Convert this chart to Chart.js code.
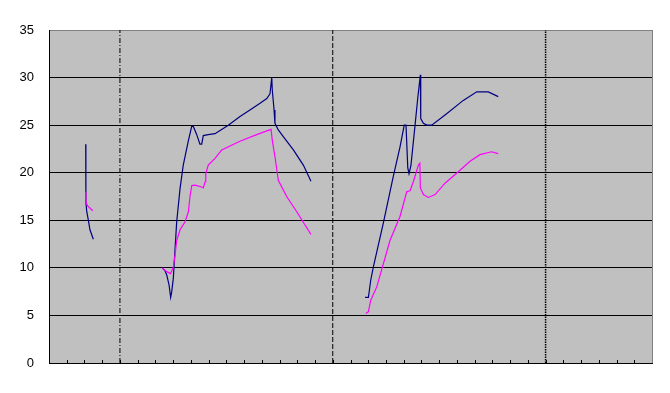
<!DOCTYPE html>
<html>
<head>
<meta charset="utf-8">
<script src="https://cdn.jsdelivr.net/npm/chart.js@4"></script>
<style>
    html, body { margin: 0; padding: 0; background: #ffffff; }
</style>
</head>
<body>
<canvas id="chart" width="670" height="393"></canvas>
<script>
// Series data: x in months along the axis, y values; null y breaks the line
const navyX = [2.07, 2.08, 2.13, 2.22, 2.31, 2.50,
    4,
    6.39, 6.54, 6.64, 6.77, 6.86, 6.92, 7.01, 7.11, 7.20, 7.39, 7.57, 7.85, 8.05, 8.14,
    8.33, 8.51, 8.61, 8.70, 8.98, 9.36, 10.11, 10.77, 11.33, 11.90, 12.28, 12.46, 12.56,
    12.59, 12.69, 12.74, 12.93, 13.21, 13.78, 14.34, 14.77,
    16,
    17.82, 18.01, 18.14, 18.29, 18.85, 19.41, 19.79, 20.03, 20.13, 20.23, 20.30, 20.41,
    20.64, 20.79, 20.94, 20.96, 21.11, 21.30, 21.58, 22.42, 23.36, 24.12, 24.77, 25.33];
const navyY = [23.0, 16.9, 15.9, 15.0, 14.0, 13.0,
    null,
    10.0, 9.7, 9.25, 8.2, 6.9, 7.5, 8.9, 12.05, 14.85, 18.35, 20.8, 23.3, 24.9, 24.85,
    24.0, 23.0, 23.0, 23.9, 24.0, 24.1, 25.0, 25.9, 26.6, 27.3, 27.8, 28.3, 30.0,
    28.7, 26.6, 25.2, 24.5, 23.8, 22.4, 20.8, 19.1,
    null,
    6.9, 6.9, 8.7, 10.1, 14.7, 19.6, 22.7, 25.0, 25.0, 20.5, 19.9, 20.8,
    25.0, 27.8, 30.3, 25.7, 25.2, 25.0, 25.0, 26.2, 27.6, 28.5, 28.5, 28.0];

const pinkX = [2.07, 2.08, 2.18, 2.47,
    4,
    6.39, 6.64, 6.86, 7.01, 7.11, 7.20, 7.39, 7.67, 7.86, 7.95, 8.05, 8.23, 8.61, 8.70,
    8.80, 8.84, 8.98, 9.36, 9.74, 10.77, 11.71, 12.52, 12.59, 12.74, 12.93, 13.40, 13.97, 14.77,
    16,
    17.86, 18.01, 18.14, 18.48, 19.23, 19.79, 20.17, 20.36, 20.55, 20.83, 20.91, 20.94,
    21.11, 21.39, 21.77, 22.33, 23.08, 23.74, 24.30, 24.96, 25.33];
const pinkY = [18.0, 16.9, 16.5, 16.0,
    null,
    10.0, 9.6, 9.4, 10.1, 11.35, 12.9, 14.0, 14.85, 15.9, 17.5, 18.65, 18.7, 18.5, 18.4,
    19.05, 19.9, 20.8, 21.5, 22.4, 23.3, 24.0, 24.55, 23.4, 21.7, 19.2, 17.5, 15.9, 13.5,
    null,
    5.2, 5.4, 6.6, 8.0, 12.9, 15.4, 18.0, 18.1, 19.1, 20.8, 21.0, 18.4,
    17.7, 17.4, 17.7, 18.9, 20.1, 21.2, 21.9, 22.2, 22.0];

// Vertical divider positions and their dash styles
const dividerX = [4, 16, 28];
const dividerDash = [[5, 2, 1, 2], [5, 2], [1.5, 1]];
const dividerWidth = [1, 1, 1.5];

// Axis ranges
const xMax = 34;
const yMax = 35;
const yStep = 5;

function toPoints(xs, ys) {
    return xs.map((x, i) => ({ x: x, y: ys[i] }));
}

// Gray plot area with a thin gray frame, and small inward ticks on the x axis
const plotArea = {
    id: 'plotArea',
    beforeDraw(chart) {
        const { ctx, chartArea: a } = chart;
        ctx.save();
        ctx.fillStyle = '#c0c0c0';
        ctx.fillRect(a.left, a.top, a.right - a.left, a.bottom - a.top);
        ctx.strokeStyle = '#808080';
        ctx.lineWidth = 1;
        ctx.strokeRect(Math.round(a.left) + 0.5, Math.round(a.top) + 0.5,
            Math.round(a.right - a.left), Math.round(a.bottom - a.top));
        ctx.restore();
    },
    afterDraw(chart) {
        const { ctx, chartArea: a } = chart;
        const xScale = chart.scales.x;
        ctx.save();
        ctx.strokeStyle = '#000000';
        ctx.lineWidth = 1;
        ctx.beginPath();
        for (let i = 1; i < xMax; i++) {
            const px = Math.round(xScale.getPixelForValue(i)) + 0.5;
            ctx.moveTo(px, Math.round(a.bottom));
            ctx.lineTo(px, Math.round(a.bottom) - 3);
        }
        ctx.stroke();
        ctx.restore();
    }
};

const datasets = [
    {
        data: toPoints(pinkX, pinkY),
        borderColor: '#ff00ff',
        borderWidth: 1.2
    },
    {
        data: toPoints(navyX, navyY),
        borderColor: '#000080',
        borderWidth: 1.2
    }
];

dividerX.forEach((x, i) => {
    datasets.push({
        data: [{ x: x, y: 0 }, { x: x, y: yMax }],
        borderColor: '#000000',
        borderWidth: dividerWidth[i],
        borderDash: dividerDash[i]
    });
});

new Chart(document.getElementById('chart'), {
    type: 'line',
    data: { datasets: datasets },
    plugins: [plotArea],
    options: {
        responsive: false,
        animation: false,
        spanGaps: false,
        elements: {
            point: { radius: 0, hoverRadius: 0 },
            line: { tension: 0, fill: false }
        },
        layout: { padding: { top: 30, right: 18, bottom: 30, left: 0 } },
        plugins: {
            legend: { display: false },
            tooltip: { enabled: false }
        },
        scales: {
            x: {
                type: 'linear',
                min: 0,
                max: xMax,
                ticks: { display: false, stepSize: 1 },
                grid: { drawOnChartArea: false, drawTicks: false },
                border: { color: '#000000', width: 1 },
                afterFit(scale) { scale.height = 0; }
            },
            y: {
                min: 0,
                max: yMax,
                ticks: {
                    stepSize: yStep,
                    color: '#000000',
                    padding: 15,
                    font: { family: 'Liberation Sans', size: 13 }
                },
                grid: {
                    drawTicks: false,
                    color: ctx => ctx.tick.value === yMax ? '#808080' : '#000000'
                },
                border: { color: '#000000', width: 1 },
                afterFit(scale) { scale.width = 49; }
            }
        }
    }
});
</script>
</body>
</html>
